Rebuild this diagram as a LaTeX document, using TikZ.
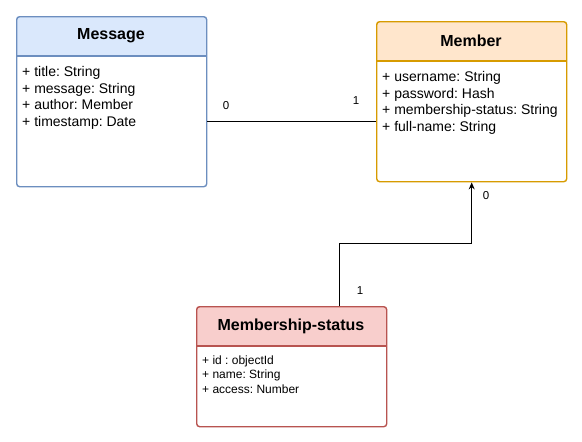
\documentclass[tikz,border=0pt]{standalone}
\usepackage{fontspec}
\setmainfont{Liberation Sans}
\usetikzlibrary{arrows.meta,positioning}
\definecolor{msgfill}{HTML}{DAE8FC}\definecolor{msgline}{HTML}{6C8EBF}
\definecolor{memfill}{HTML}{FFE6CC}\definecolor{memline}{HTML}{D79B00}
\definecolor{stfill}{HTML}{F8CECC}\definecolor{stline}{HTML}{B85450}
\tikzset{
  classbox/.style={rectangle, rounded corners=3pt, line width=1.4pt, minimum width=190pt, anchor=north west, inner sep=0pt},
  headtext/.style={font=\bfseries\fontsize{16}{18}\selectfont, inner sep=0pt},
  attrs/.style={font=\fontsize{14}{16.7}\selectfont, align=left, anchor=north west, inner sep=0pt},
  attrsmall/.style={font=\fontsize{12}{14.6}\selectfont, align=left, anchor=north west, inner sep=0pt},
  mult/.style={font=\fontsize{11.5}{13}\selectfont, inner sep=0pt},
  conn/.style={line width=0.9pt, draw=black}
}
\begin{document}
\frenchspacing
\begin{tikzpicture}[x=1pt,y=-1pt]
\fill[white] (0,0) rectangle (582,442);
\useasboundingbox (0,0) rectangle (582,442);
% Message
\fill[msgfill] (16,56) [rounded corners=3pt] -- (16,16) -- (206,16) [sharp corners] -- (206,56) -- cycle;
\node[classbox, draw=msgline, minimum height=170pt] (msg) at (16,16) {};
\draw[msgline, line width=1.4pt] (16,56) -- (206,56);
\node[headtext] (msgH) at (111,36) {Message};
\node[attrs] (msgA) at (22,66) {+ title: String\\+ message: String\\+ author: Member\\+ timestamp: Date};
% Member
\fill[memfill] (376,61) [rounded corners=3pt] -- (376,21) -- (566,21) [sharp corners] -- (566,61) -- cycle;
\node[classbox, draw=memline, minimum height=160pt] (mem) at (376,21) {};
\draw[memline, line width=1.4pt] (376,61) -- (566,61);
\node[headtext] (memH) at (471,41) {Member};
\node[attrs] (memA) at (382,71) {+ username: String\\+ password: Hash\\+ membership-status: String\\+ full-name: String};
% Membership-status
\fill[stfill] (196,346) [rounded corners=3pt] -- (196,306) -- (386,306) [sharp corners] -- (386,346) -- cycle;
\node[classbox, draw=stline, minimum height=120pt] (st) at (196,306) {};
\draw[stline, line width=1.4pt] (196,346) -- (386,346);
\node[headtext] (stH) at (291,326) {Membership-status};
\node[attrsmall] (stA) at (202,355.5) {+ id : objectId\\+ name: String\\+ access: Number};
% connectors
\draw[conn] ([yshift=-20pt]msg.east) -- ([yshift=-20pt]mem.west);
\node[mult] (m0) at (226,105.5) {0};
\node[mult] (m1) at (356,100.5) {1};
\draw[conn, -{Stealth[length=7pt,width=6pt]}] ([xshift=48pt]st.north) -- ++(0,-63) -| (mem.south);
\node[mult] (s0) at (486,195.5) {0};
\node[mult] (s1) at (360,290.5) {1};
\end{tikzpicture}
\end{document}
